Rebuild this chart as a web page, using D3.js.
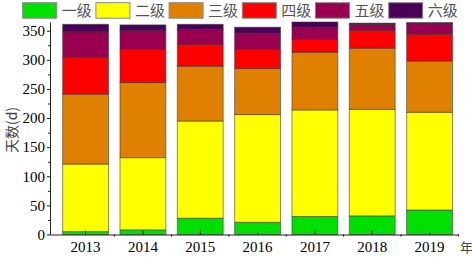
<!DOCTYPE html>
<html>
<head>
<meta charset="utf-8">
<script src="https://cdn.jsdelivr.net/npm/d3@7"></script>
<style>
  body { margin: 0; background: #fff; }
  svg { display: block; }
</style>
</head>
<body>
<div id="chart"></div>
<script>
var width = 472, height = 257;

var years = ["2013", "2014", "2015", "2016", "2017", "2018", "2019"];
var levels = ["一级", "二级", "三级", "四级", "五级", "六级"];
var colors = ["#00e000", "#ffff00", "#e08000", "#ff0000", "#990050", "#4b0058"];

// days per air quality level
var level1 = [5, 8, 28, 21, 31, 32, 42];
var level2 = [116, 124, 167, 185, 183, 183, 168];
var level3 = [120, 129, 94, 79, 99, 105, 88];
var level4 = [64, 57, 38, 33, 22, 31, 46];
var level5 = [43, 32, 25, 28, 21, 10, 18];
var level6 = [13, 10, 9, 10, 9, 2, 2];

var yTicks = [0, 50, 100, 150, 200, 250, 300, 350];
var yMinor = [25, 75, 125, 175, 225, 275, 325];

var series = [level1, level2, level3, level4, level5, level6];
var rows = years.map(function(y, i) {
  var r = {year: y};
  levels.forEach(function(l, j) { r[l] = series[j][i]; });
  return r;
});

var stacked = d3.stack().keys(levels)(rows);

var x = d3.scaleBand()
  .domain(years)
  .range([50, 458.3])
  .paddingInner(0.2)
  .paddingOuter(0.161)
  .align(0.686);

var y = d3.scaleLinear()
  .domain([0, 365])
  .range([234.5, 22]);

var color = d3.scaleOrdinal().domain(levels).range(colors);

var svg = d3.select("#chart")
  .append("svg")
    .attr("width", width)
    .attr("height", height);

// bars
svg.append("g")
  .selectAll("g")
  .data(stacked)
  .enter()
  .append("g")
    .attr("fill", d => color(d.key))
  .selectAll("rect")
  .data(d => d)
  .enter()
  .append("rect")
    .attr("x", d => x(d.data.year))
    .attr("y", d => y(d[1]))
    .attr("width", x.bandwidth())
    .attr("height", d => y(d[0]) - y(d[1]))
    .attr("stroke", "#333")
    .attr("stroke-opacity", 0.55)
    .attr("stroke-width", 1);

// y axis
var yAxis = svg.append("g")
  .attr("transform", "translate(50,0)")
  .call(d3.axisLeft(y).tickValues(yTicks).tickSize(3).tickSizeOuter(0).tickPadding(2));

svg.append("g")
  .attr("transform", "translate(50,0)")
  .call(d3.axisLeft(y).tickValues(yMinor).tickSize(2).tickFormat(""))
  .select(".domain").remove();

yAxis.selectAll("text")
  .attr("font-family", "'Liberation Serif', 'Times New Roman', serif")
  .attr("font-size", 15)
  .attr("fill", "#000");

// x axis
var xAxis = svg.append("g")
  .attr("transform", "translate(0," + y(0) + ")")
  .call(d3.axisBottom(x).tickSizeInner(-4).tickSizeOuter(0).tickPadding(7));

xAxis.selectAll("text")
  .attr("font-family", "'Liberation Serif', 'Times New Roman', serif")
  .attr("font-size", 15)
  .attr("fill", "#000");

// minor ticks between bars
svg.append("g")
  .selectAll("line")
  .data(years)
  .enter()
  .append("line")
    .attr("x1", d => x(d) + x.bandwidth() + (x.step() - x.bandwidth()) / 2)
    .attr("x2", d => x(d) + x.bandwidth() + (x.step() - x.bandwidth()) / 2)
    .attr("y1", y(0))
    .attr("y2", y(0) + 2)
    .attr("stroke", "#000");

svg.selectAll(".domain, .tick line").attr("stroke", "#222");

// axis titles
svg.append("text")
  .attr("transform", "translate(11,130) rotate(-90)")
  .attr("text-anchor", "middle")
  .attr("dominant-baseline", "central")
  .attr("font-family", "'Noto Sans CJK SC', sans-serif")
  .attr("font-size", 14)
  .attr("fill", "#444")
  .text("天数(d)");

svg.append("text")
  .attr("x", 460)
  .attr("y", 252)
  .attr("font-family", "'Noto Sans CJK SC', sans-serif")
  .attr("font-size", 13)
  .attr("fill", "#444")
  .text("年");

// legend
var legend = svg.append("g")
  .selectAll("g")
  .data(levels)
  .enter()
  .append("g")
    .attr("transform", (d, i) => "translate(" + (22.7 + i * 73.2) + ",2.7)");

legend.append("rect")
  .attr("width", 34)
  .attr("height", 15.5)
  .attr("fill", d => color(d))
  .attr("stroke", "#888")
  .attr("stroke-width", 1);

legend.append("text")
  .attr("x", 39)
  .attr("y", 8)
  .attr("dy", "0.35em")
  .attr("font-family", "'Noto Sans CJK SC', sans-serif")
  .attr("font-size", 15)
  .attr("fill", "#555")
  .text(d => d);
</script>
</body>
</html>
